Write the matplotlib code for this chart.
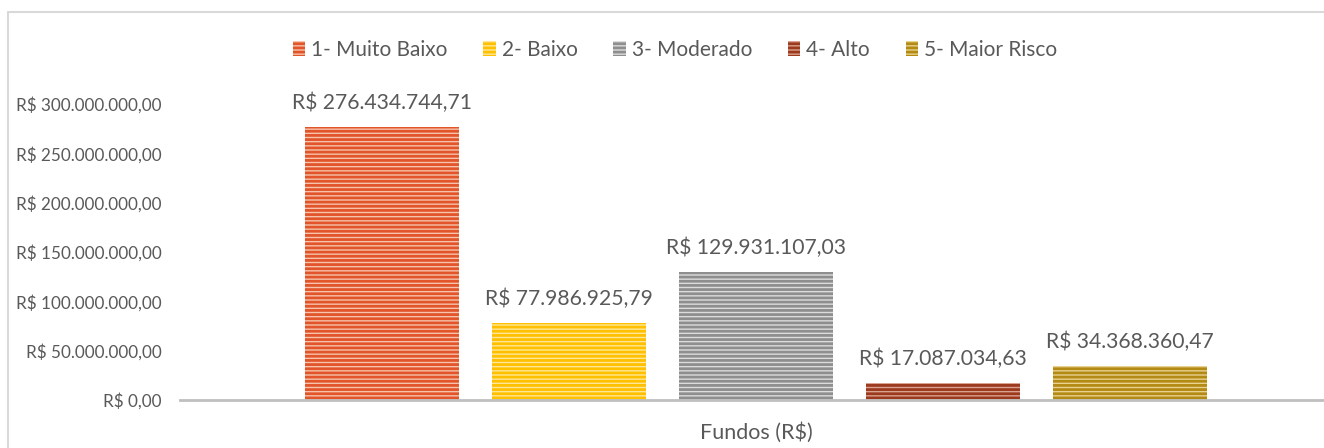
import matplotlib.pyplot as plt
from matplotlib.patches import Patch, Rectangle
from matplotlib.ticker import FuncFormatter

plt.rcParams['font.family'] = ['Lato', 'DejaVu Sans']
plt.rcParams['hatch.linewidth'] = 2.0

categorias = ['1- Muito Baixo', '2- Baixo', '3- Moderado', '4- Alto', '5- Maior Risco']
valores = [276434744.71, 77986925.79, 129931107.03, 17087034.63, 34368360.47]
cor_escura = ['#E2542A', '#FFC000', '#8E8E8E', '#9C3A1E', '#B38A14']
cor_clara = ['#F6C3AC', '#FFE79A', '#DCDCDC', '#D9A291', '#E9D190']
yticks = [0, 50e6, 100e6, 150e6, 200e6, 250e6, 300e6]

texto = '#595959'


def brl(v, pos=None):
    s = f'{v:,.2f}'
    s = s.replace(',', '_').replace('.', ',').replace('_', '.')
    return 'R$ ' + s


fig = plt.figure(figsize=(13.24, 4.48), dpi=100)
fig.patches.append(Rectangle((8 / 1324, -0.1), 1.2, 1 - 12 / 448 + 0.1,
                             transform=fig.transFigure, fill=False,
                             edgecolor='#D9D9D9', linewidth=1.5))

ax = fig.add_axes([180 / 1324, 48 / 448, 1152 / 1324, 296 / 448])
x = range(len(valores))
for i in x:
    ax.bar(i, valores[i], width=0.824, facecolor=cor_clara[i],
           edgecolor=cor_escura[i], linewidth=0, hatch='----')
    ax.annotate(brl(valores[i]), (i, valores[i]), xytext=(0, 10),
                textcoords='offset points', ha='center', va='bottom',
                fontsize=15.2, color=texto)

ax.set_xlim(-1.08, 5.08)
ax.set_ylim(0, 300e6)
ax.set_yticks(yticks)
ax.yaxis.set_major_formatter(FuncFormatter(brl))
ax.tick_params(axis='y', length=0, pad=13, labelsize=12.3, labelcolor=texto)
ax.set_xticks([])
ax.set_xlabel('Fundos (R$)', fontsize=15.5, color=texto)
ax.xaxis.set_label_coords(576 / 1152, -0.075)
for s in ['top', 'right', 'left']:
    ax.spines[s].set_visible(False)
ax.spines['bottom'].set_color('#BFBFBF')
ax.spines['bottom'].set_linewidth(2)

handles = [Patch(facecolor=cor_clara[i], edgecolor=cor_escura[i], linewidth=0,
                 hatch='----', label=categorias[i]) for i in x]
fig.legend(handles=handles, loc='center', bbox_to_anchor=(675 / 1324, 1 - 50 / 448),
           ncol=5, frameon=False, fontsize=15, labelcolor=texto,
           handlelength=0.6, handleheight=0.7, handletextpad=0.3, columnspacing=1.7)

fig.savefig('out.png', dpi=100)
